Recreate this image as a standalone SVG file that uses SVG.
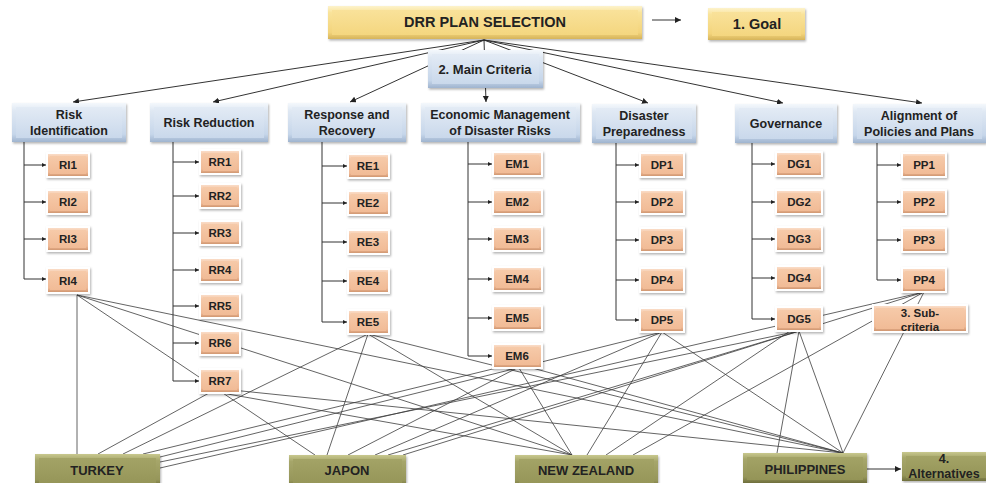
<svg xmlns="http://www.w3.org/2000/svg" width="986" height="483" viewBox="0 0 986 483">
  <defs>
    <style>
      text { font-family: "Liberation Sans", Arial, sans-serif; font-weight: bold; fill: #222; text-anchor: middle; }
      .t14 { font-size: 14.5px; }
      .t13 { font-size: 13px; }
      .t12 { font-size: 12.5px; }
      .t11 { font-size: 11.5px; }
      .ln { stroke: #333; stroke-width: 1; fill: none; }
      .web { stroke: #3c3c3c; stroke-width: 0.8; fill: none; }
      .goal .o { fill: url(#gGoalO); filter: url(#sh); }
      .goal .i { fill: url(#gGoalI); }
      .crit .o { fill: url(#gCritO); filter: url(#sh); }
      .crit .i { fill: url(#gCritI); }
      .sub .o { fill: url(#gSubO); stroke: #fff; stroke-width: 2; filter: url(#sh); }
      .sub .i { fill: url(#gSubI); }
      .alt .o { fill: url(#gAltO); filter: url(#sh); }
      .alt .i { fill: url(#gAltI); }
    </style>
    <filter id="sh" x="-15%" y="-20%" width="135%" height="150%">
      <feDropShadow dx="1" dy="1.5" stdDeviation="1.2" flood-color="#000" flood-opacity="0.3"/>
    </filter>
    <linearGradient id="gGoalO" x1="0" y1="0" x2="0" y2="1">
      <stop offset="0" stop-color="#fdf3cc"/>
      <stop offset="0.2" stop-color="#f9e39a"/>
      <stop offset="0.8" stop-color="#f3d47c"/>
      <stop offset="1" stop-color="#d6b45a"/>
    </linearGradient>
    <linearGradient id="gGoalI" x1="0" y1="0" x2="0" y2="1">
      <stop offset="0" stop-color="#f9e29a"/>
      <stop offset="1" stop-color="#f4d67f"/>
    </linearGradient>
    <linearGradient id="gCritO" x1="0" y1="0" x2="0" y2="1">
      <stop offset="0" stop-color="#f4f8fc"/>
      <stop offset="0.2" stop-color="#dfe8f3"/>
      <stop offset="0.8" stop-color="#c6d6ea"/>
      <stop offset="1" stop-color="#9fb4cf"/>
    </linearGradient>
    <linearGradient id="gCritI" x1="0" y1="0" x2="0" y2="1">
      <stop offset="0" stop-color="#e3ebf5"/>
      <stop offset="1" stop-color="#c9d8eb"/>
    </linearGradient>
    <linearGradient id="gSubO" x1="0" y1="0" x2="0" y2="1">
      <stop offset="0" stop-color="#fbe2d0"/>
      <stop offset="0.2" stop-color="#f5c8a8"/>
      <stop offset="0.8" stop-color="#f0ba96"/>
      <stop offset="1" stop-color="#c98e68"/>
    </linearGradient>
    <linearGradient id="gSubI" x1="0" y1="0" x2="0" y2="1">
      <stop offset="0" stop-color="#f6caa9"/>
      <stop offset="1" stop-color="#f1bb96"/>
    </linearGradient>
    <linearGradient id="gAltO" x1="0" y1="0" x2="0" y2="1">
      <stop offset="0" stop-color="#c8c88e"/>
      <stop offset="0.2" stop-color="#a6a66a"/>
      <stop offset="0.8" stop-color="#96965a"/>
      <stop offset="1" stop-color="#6f6f3c"/>
    </linearGradient>
    <linearGradient id="gAltI" x1="0" y1="0" x2="0" y2="1">
      <stop offset="0" stop-color="#a3a366"/>
      <stop offset="1" stop-color="#949457"/>
    </linearGradient>
    <marker id="ah" markerUnits="userSpaceOnUse" markerWidth="7" markerHeight="7" refX="6" refY="3" orient="auto">
      <path d="M0,0 L6,3 L0,6 z" fill="#222"/>
    </marker>
    <marker id="ahs" markerUnits="userSpaceOnUse" markerWidth="5" markerHeight="5" refX="4" refY="2" orient="auto">
      <path d="M0,0 L4,2 L0,4 z" fill="#222"/>
    </marker>
  </defs>

  <rect width="986" height="483" fill="#fff"/>

  <!-- connectors -->
  <g id="connectors">
    <!-- goal to main criteria -->
    <line class="ln" x1="484" y1="40" x2="73" y2="102" marker-end="url(#ah)"/>
    <line class="ln" x1="484" y1="40" x2="213" y2="102" marker-end="url(#ah)"/>
    <line class="ln" x1="484" y1="40" x2="350" y2="102" marker-end="url(#ah)"/>
    <line class="ln" x1="484" y1="40" x2="486" y2="102" marker-end="url(#ah)"/>
    <line class="ln" x1="484" y1="40" x2="648" y2="103" marker-end="url(#ah)"/>
    <line class="ln" x1="484" y1="40" x2="783" y2="103" marker-end="url(#ah)"/>
    <line class="ln" x1="484" y1="40" x2="922" y2="103" marker-end="url(#ah)"/>
    <!-- legend arrows -->
    <line class="ln" x1="652" y1="20" x2="681" y2="20" marker-end="url(#ah)"/>
    <line class="ln" x1="867" y1="469" x2="901" y2="469" marker-end="url(#ah)"/>

    <!-- criteria trunks -->
    <path class="ln" d="M24,142 V279 M173,142 V381 M322,142 V322 M468,142 V356 M616,142 V320 M752,142 V319 M877,142 V280"/>
    <!-- branches -->
    <g class="ln">
      <line x1="24" y1="165" x2="46" y2="165" marker-end="url(#ahs)"/>
      <line x1="24" y1="202" x2="46" y2="202" marker-end="url(#ahs)"/>
      <line x1="24" y1="239" x2="46" y2="239" marker-end="url(#ahs)"/>
      <line x1="24" y1="279" x2="46" y2="279" marker-end="url(#ahs)"/>
      <line x1="173" y1="162" x2="199" y2="162" marker-end="url(#ahs)"/>
      <line x1="173" y1="196" x2="199" y2="196" marker-end="url(#ahs)"/>
      <line x1="173" y1="233" x2="199" y2="233" marker-end="url(#ahs)"/>
      <line x1="173" y1="270" x2="199" y2="270" marker-end="url(#ahs)"/>
      <line x1="173" y1="306" x2="199" y2="306" marker-end="url(#ahs)"/>
      <line x1="173" y1="343" x2="199" y2="343" marker-end="url(#ahs)"/>
      <line x1="173" y1="381" x2="199" y2="381" marker-end="url(#ahs)"/>
      <line x1="322" y1="166" x2="347" y2="166" marker-end="url(#ahs)"/>
      <line x1="322" y1="203" x2="347" y2="203" marker-end="url(#ahs)"/>
      <line x1="322" y1="242" x2="347" y2="242" marker-end="url(#ahs)"/>
      <line x1="322" y1="281" x2="347" y2="281" marker-end="url(#ahs)"/>
      <line x1="322" y1="322" x2="347" y2="322" marker-end="url(#ahs)"/>
      <line x1="468" y1="164" x2="492" y2="164" marker-end="url(#ahs)"/>
      <line x1="468" y1="202" x2="492" y2="202" marker-end="url(#ahs)"/>
      <line x1="468" y1="239" x2="492" y2="239" marker-end="url(#ahs)"/>
      <line x1="468" y1="279" x2="492" y2="279" marker-end="url(#ahs)"/>
      <line x1="468" y1="318" x2="492" y2="318" marker-end="url(#ahs)"/>
      <line x1="468" y1="356" x2="492" y2="356" marker-end="url(#ahs)"/>
      <line x1="616" y1="165" x2="639" y2="165" marker-end="url(#ahs)"/>
      <line x1="616" y1="202" x2="639" y2="202" marker-end="url(#ahs)"/>
      <line x1="616" y1="240" x2="639" y2="240" marker-end="url(#ahs)"/>
      <line x1="616" y1="280" x2="639" y2="280" marker-end="url(#ahs)"/>
      <line x1="616" y1="320" x2="639" y2="320" marker-end="url(#ahs)"/>
      <line x1="752" y1="164" x2="775" y2="164" marker-end="url(#ahs)"/>
      <line x1="752" y1="202" x2="775" y2="202" marker-end="url(#ahs)"/>
      <line x1="752" y1="239" x2="775" y2="239" marker-end="url(#ahs)"/>
      <line x1="752" y1="278" x2="775" y2="278" marker-end="url(#ahs)"/>
      <line x1="752" y1="319" x2="775" y2="319" marker-end="url(#ahs)"/>
      <line x1="877" y1="165" x2="901" y2="165" marker-end="url(#ahs)"/>
      <line x1="877" y1="202" x2="901" y2="202" marker-end="url(#ahs)"/>
      <line x1="877" y1="240" x2="901" y2="240" marker-end="url(#ahs)"/>
      <line x1="877" y1="280" x2="901" y2="280" marker-end="url(#ahs)"/>
    </g>

    <!-- sub-criteria to alternatives -->
    <g class="web">
      <!-- TURKEY -->
      <line x1="77" y1="295" x2="77" y2="454"/>
      <line x1="209" y1="393" x2="98" y2="454"/>
      <line x1="368" y1="334" x2="123" y2="454"/>
      <line x1="505" y1="366" x2="143" y2="454"/>
      <line x1="662" y1="332" x2="160" y2="457"/>
      <line x1="799" y1="331" x2="160" y2="462"/>
      <line x1="924" y1="292" x2="160" y2="468"/>
      <!-- JAPON -->
      <line x1="77" y1="295" x2="315" y2="455"/>
      <line x1="368" y1="334" x2="327" y2="455"/>
      <line x1="517" y1="368" x2="348" y2="455"/>
      <line x1="662" y1="332" x2="375" y2="455"/>
      <line x1="799" y1="331" x2="388" y2="455"/>
      <line x1="924" y1="292" x2="403" y2="455"/>
      <!-- NEW ZEALAND -->
      <line x1="77" y1="295" x2="572" y2="455"/>
      <line x1="222" y1="393" x2="572" y2="455"/>
      <line x1="368" y1="334" x2="572" y2="455"/>
      <line x1="519" y1="368" x2="572" y2="455"/>
      <line x1="662" y1="332" x2="587" y2="455"/>
      <line x1="790" y1="331" x2="606" y2="455"/>
      <line x1="924" y1="292" x2="633" y2="455"/>
      <!-- PHILIPPINES -->
      <line x1="77" y1="295" x2="843" y2="453"/>
      <line x1="232" y1="390" x2="843" y2="453"/>
      <line x1="368" y1="334" x2="843" y2="453"/>
      <line x1="525" y1="366" x2="843" y2="453"/>
      <line x1="662" y1="332" x2="843" y2="453"/>
      <line x1="799" y1="331" x2="843" y2="453"/>
      <line x1="799" y1="331" x2="777" y2="453"/>
      <line x1="924" y1="292" x2="843" y2="453"/>
    </g>
  </g>

  <!-- goal -->
  <g id="goal" class="goal">
    <rect class="o" x="328" y="6" width="314" height="33"/>
    <rect class="i" x="332" y="10" width="306" height="25"/>
    <text class="t14" x="485" y="27">DRR PLAN SELECTION</text>
  </g>
  <g id="goal-label" class="goal">
    <rect class="o" x="708" y="8" width="97" height="32"/>
    <rect class="i" x="712" y="12" width="89" height="24"/>
    <text class="t14" x="757" y="29">1. Goal</text>
  </g>

  <!-- main criteria -->
  <g id="main-criteria-label" class="crit">
    <rect class="o" x="428" y="50" width="115" height="38"/>
    <rect class="i" x="432" y="54" width="107" height="30"/>
    <text class="t13" x="485" y="74">2. Main Criteria</text>
  </g>
  <g id="risk-identification" class="crit">
    <rect class="o" x="12" y="103" width="114" height="39"/>
    <rect class="i" x="16" y="107" width="106" height="31"/>
    <text class="t12" x="69" y="119">Risk</text>
    <text class="t12" x="69" y="135">Identification</text>
  </g>
  <g id="risk-reduction" class="crit">
    <rect class="o" x="150" y="103" width="118" height="39"/>
    <rect class="i" x="154" y="107" width="110" height="31"/>
    <text class="t12" x="209" y="127">Risk Reduction</text>
  </g>
  <g id="response-recovery" class="crit">
    <rect class="o" x="288" y="103" width="118" height="39"/>
    <rect class="i" x="292" y="107" width="110" height="31"/>
    <text class="t12" x="347" y="119">Response and</text>
    <text class="t12" x="347" y="135">Recovery</text>
  </g>
  <g id="economic-management" class="crit">
    <rect class="o" x="421" y="103" width="159" height="39"/>
    <rect class="i" x="425" y="107" width="151" height="31"/>
    <text class="t12" x="500" y="119">Economic Management</text>
    <text class="t12" x="500" y="135">of Disaster Risks</text>
  </g>
  <g id="disaster-preparedness" class="crit">
    <rect class="o" x="592" y="104" width="104" height="39"/>
    <rect class="i" x="596" y="108" width="96" height="31"/>
    <text class="t12" x="644" y="120">Disaster</text>
    <text class="t12" x="644" y="136">Preparedness</text>
  </g>
  <g id="governance" class="crit">
    <rect class="o" x="735" y="104" width="102" height="39"/>
    <rect class="i" x="739" y="108" width="94" height="31"/>
    <text class="t12" x="786" y="128">Governance</text>
  </g>
  <g id="alignment" class="crit">
    <rect class="o" x="853" y="104" width="133" height="39"/>
    <rect class="i" x="857" y="108" width="125" height="31"/>
    <text class="t12" x="919" y="120">Alignment of</text>
    <text class="t12" x="919" y="136">Policies and Plans</text>
  </g>

  <!-- sub-criteria -->
  <g id="RI1" class="sub"><rect class="o" x="47" y="153" width="42" height="24"/><rect class="i" x="50" y="156" width="36" height="18"/><text class="t11" x="68" y="169">RI1</text></g>
  <g id="RI2" class="sub"><rect class="o" x="47" y="190" width="42" height="24"/><rect class="i" x="50" y="193" width="36" height="18"/><text class="t11" x="68" y="206">RI2</text></g>
  <g id="RI3" class="sub"><rect class="o" x="47" y="227" width="42" height="24"/><rect class="i" x="50" y="230" width="36" height="18"/><text class="t11" x="68" y="243">RI3</text></g>
  <g id="RI4" class="sub"><rect class="o" x="47" y="268" width="42" height="25"/><rect class="i" x="50" y="271" width="36" height="19"/><text class="t11" x="68" y="285">RI4</text></g>

  <g id="RR1" class="sub"><rect class="o" x="200" y="150" width="40" height="24"/><rect class="i" x="203" y="153" width="34" height="18"/><text class="t11" x="220" y="166">RR1</text></g>
  <g id="RR2" class="sub"><rect class="o" x="200" y="184" width="40" height="24"/><rect class="i" x="203" y="187" width="34" height="18"/><text class="t11" x="220" y="200">RR2</text></g>
  <g id="RR3" class="sub"><rect class="o" x="200" y="221" width="40" height="24"/><rect class="i" x="203" y="224" width="34" height="18"/><text class="t11" x="220" y="237">RR3</text></g>
  <g id="RR4" class="sub"><rect class="o" x="200" y="258" width="40" height="24"/><rect class="i" x="203" y="261" width="34" height="18"/><text class="t11" x="220" y="274">RR4</text></g>
  <g id="RR5" class="sub"><rect class="o" x="200" y="294" width="40" height="24"/><rect class="i" x="203" y="297" width="34" height="18"/><text class="t11" x="220" y="310">RR5</text></g>
  <g id="RR6" class="sub"><rect class="o" x="200" y="331" width="40" height="24"/><rect class="i" x="203" y="334" width="34" height="18"/><text class="t11" x="220" y="347">RR6</text></g>
  <g id="RR7" class="sub"><rect class="o" x="200" y="369" width="40" height="24"/><rect class="i" x="203" y="372" width="34" height="18"/><text class="t11" x="220" y="385">RR7</text></g>

  <g id="RE1" class="sub"><rect class="o" x="348" y="154" width="41" height="24"/><rect class="i" x="351" y="157" width="35" height="18"/><text class="t11" x="368" y="170">RE1</text></g>
  <g id="RE2" class="sub"><rect class="o" x="348" y="191" width="41" height="24"/><rect class="i" x="351" y="194" width="35" height="18"/><text class="t11" x="368" y="207">RE2</text></g>
  <g id="RE3" class="sub"><rect class="o" x="348" y="230" width="41" height="24"/><rect class="i" x="351" y="233" width="35" height="18"/><text class="t11" x="368" y="246">RE3</text></g>
  <g id="RE4" class="sub"><rect class="o" x="348" y="269" width="41" height="24"/><rect class="i" x="351" y="272" width="35" height="18"/><text class="t11" x="368" y="285">RE4</text></g>
  <g id="RE5" class="sub"><rect class="o" x="348" y="310" width="41" height="24"/><rect class="i" x="351" y="313" width="35" height="18"/><text class="t11" x="368" y="326">RE5</text></g>

  <g id="EM1" class="sub"><rect class="o" x="493" y="152" width="49" height="24"/><rect class="i" x="496" y="155" width="43" height="18"/><text class="t11" x="517" y="168">EM1</text></g>
  <g id="EM2" class="sub"><rect class="o" x="493" y="190" width="49" height="24"/><rect class="i" x="496" y="193" width="43" height="18"/><text class="t11" x="517" y="206">EM2</text></g>
  <g id="EM3" class="sub"><rect class="o" x="493" y="227" width="49" height="24"/><rect class="i" x="496" y="230" width="43" height="18"/><text class="t11" x="517" y="243">EM3</text></g>
  <g id="EM4" class="sub"><rect class="o" x="493" y="267" width="49" height="24"/><rect class="i" x="496" y="270" width="43" height="18"/><text class="t11" x="517" y="283">EM4</text></g>
  <g id="EM5" class="sub"><rect class="o" x="493" y="306" width="49" height="24"/><rect class="i" x="496" y="309" width="43" height="18"/><text class="t11" x="517" y="322">EM5</text></g>
  <g id="EM6" class="sub"><rect class="o" x="493" y="344" width="49" height="24"/><rect class="i" x="496" y="347" width="43" height="18"/><text class="t11" x="517" y="360">EM6</text></g>

  <g id="DP1" class="sub"><rect class="o" x="640" y="153" width="44" height="24"/><rect class="i" x="643" y="156" width="38" height="18"/><text class="t11" x="662" y="169">DP1</text></g>
  <g id="DP2" class="sub"><rect class="o" x="640" y="190" width="44" height="24"/><rect class="i" x="643" y="193" width="38" height="18"/><text class="t11" x="662" y="206">DP2</text></g>
  <g id="DP3" class="sub"><rect class="o" x="640" y="228" width="44" height="24"/><rect class="i" x="643" y="231" width="38" height="18"/><text class="t11" x="662" y="244">DP3</text></g>
  <g id="DP4" class="sub"><rect class="o" x="640" y="268" width="44" height="24"/><rect class="i" x="643" y="271" width="38" height="18"/><text class="t11" x="662" y="284">DP4</text></g>
  <g id="DP5" class="sub"><rect class="o" x="640" y="308" width="44" height="24"/><rect class="i" x="643" y="311" width="38" height="18"/><text class="t11" x="662" y="324">DP5</text></g>

  <g id="DG1" class="sub"><rect class="o" x="776" y="152" width="46" height="24"/><rect class="i" x="779" y="155" width="40" height="18"/><text class="t11" x="799" y="168">DG1</text></g>
  <g id="DG2" class="sub"><rect class="o" x="776" y="190" width="46" height="24"/><rect class="i" x="779" y="193" width="40" height="18"/><text class="t11" x="799" y="206">DG2</text></g>
  <g id="DG3" class="sub"><rect class="o" x="776" y="227" width="46" height="24"/><rect class="i" x="779" y="230" width="40" height="18"/><text class="t11" x="799" y="243">DG3</text></g>
  <g id="DG4" class="sub"><rect class="o" x="776" y="266" width="46" height="24"/><rect class="i" x="779" y="269" width="40" height="18"/><text class="t11" x="799" y="282">DG4</text></g>
  <g id="DG5" class="sub"><rect class="o" x="776" y="307" width="46" height="24"/><rect class="i" x="779" y="310" width="40" height="18"/><text class="t11" x="799" y="323">DG5</text></g>

  <g id="PP1" class="sub"><rect class="o" x="902" y="153" width="44" height="24"/><rect class="i" x="905" y="156" width="38" height="18"/><text class="t11" x="924" y="169">PP1</text></g>
  <g id="PP2" class="sub"><rect class="o" x="902" y="190" width="44" height="24"/><rect class="i" x="905" y="193" width="38" height="18"/><text class="t11" x="924" y="206">PP2</text></g>
  <g id="PP3" class="sub"><rect class="o" x="902" y="228" width="44" height="24"/><rect class="i" x="905" y="231" width="38" height="18"/><text class="t11" x="924" y="244">PP3</text></g>
  <g id="PP4" class="sub"><rect class="o" x="902" y="268" width="44" height="24"/><rect class="i" x="905" y="271" width="38" height="18"/><text class="t11" x="924" y="284">PP4</text></g>

  <g id="sub-criteria-label" class="sub">
    <rect class="o" x="873" y="305" width="94" height="27"/>
    <rect class="i" x="876" y="308" width="88" height="21"/>
    <text class="t11" x="920" y="317">3. Sub-</text>
    <text class="t11" x="920" y="331">criteria</text>
  </g>

  <!-- alternatives -->
  <g id="TURKEY" class="alt">
    <rect class="o" x="35" y="454" width="125" height="32"/>
    <rect class="i" x="39" y="458" width="117" height="28"/>
    <text class="t13" x="97" y="475">TURKEY</text>
  </g>
  <g id="JAPON" class="alt">
    <rect class="o" x="289" y="455" width="117" height="32"/>
    <rect class="i" x="293" y="459" width="109" height="28"/>
    <text class="t13" x="347" y="475">JAPON</text>
  </g>
  <g id="NEW-ZEALAND" class="alt">
    <rect class="o" x="515" y="455" width="143" height="32"/>
    <rect class="i" x="519" y="459" width="135" height="28"/>
    <text class="t13" x="586" y="475">NEW ZEALAND</text>
  </g>
  <g id="PHILIPPINES" class="alt">
    <rect class="o" x="743" y="453" width="124" height="30"/>
    <rect class="i" x="747" y="457" width="116" height="23"/>
    <text class="t13" x="805" y="474">PHILIPPINES</text>
  </g>
  <g id="alternatives-label" class="alt">
    <rect class="o" x="902" y="452" width="90" height="29"/>
    <rect class="i" x="906" y="456" width="82" height="22"/>
    <text class="t12" x="944" y="463">4.</text>
    <text class="t12" x="944" y="478">Alternatives</text>
  </g>
</svg>
